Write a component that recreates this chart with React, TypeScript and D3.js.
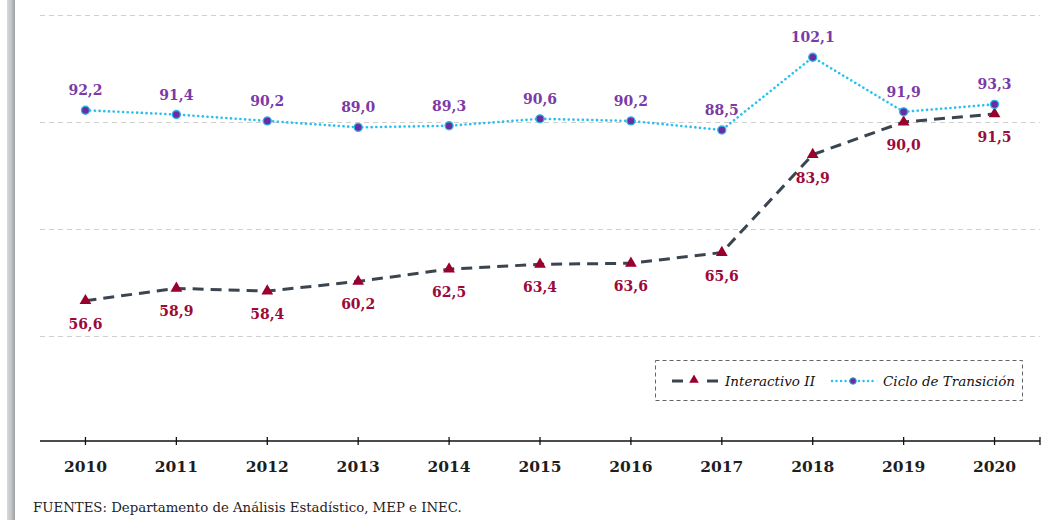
import React from "react";
import * as d3 from "d3";

const years = ["2010","2011","2012","2013","2014","2015","2016","2017","2018","2019","2020"];
const interactivo = [56.6, 58.9, 58.4, 60.2, 62.5, 63.4, 63.6, 65.6, 83.9, 90.0, 91.5];
const ciclo = [92.2, 91.4, 90.2, 89.0, 89.3, 90.6, 90.2, 88.5, 102.1, 91.9, 93.3];
const gridValues = [110, 90, 70, 50];
const seriesNames = ["Interactivo II", "Ciclo de Transición"];
const source = "FUENTES: Departamento de Análisis Estadístico, MEP e INEC.";

const W = 1058, H = 520;
const serif = "'DejaVu Serif', 'Liberation Serif', serif";
const fmt = (v: number) => v.toFixed(1).replace(".", ",");

export default function App() {
  const x = d3.scaleBand<string>().domain(years).range([40, 1040]);
  const cx = (d: string) => (x(d) as number) + x.bandwidth() / 2;
  const y = d3.scaleLinear().domain([30, 110]).range([443, 15]);
  const line = d3.line<number>().x((_, i) => cx(years[i])).y((v) => y(v));
  const tri = d3.symbol().type(d3.symbolTriangle).size(60)();

  return (
    <svg width={W} height={H} style={{ position: "absolute", left: 0, top: 0, background: "#fff" }}>
      <defs>
        <linearGradient id="bar" x1="0" x2="1" y1="0" y2="0">
          <stop offset="0" stopColor="#d6d8da" />
          <stop offset="0.5" stopColor="#c4c6c8" />
          <stop offset="1" stopColor="#9ea1a4" />
        </linearGradient>
      </defs>
      <rect x={7} y={0} width={8} height={H} fill="url(#bar)" />
      {gridValues.map((g) => (
        <line key={g} x1={40} x2={1040} y1={Math.round(y(g)) + 0.5} y2={Math.round(y(g)) + 0.5} stroke="#cfcfcf" strokeWidth={1} strokeDasharray="5,4" />
      ))}
      <line x1={40} x2={1040} y1={441} y2={441} stroke="#111" strokeWidth={1.5} />
      {years.map((d) => (
        <line key={d} x1={cx(d)} x2={cx(d)} y1={437} y2={445} stroke="#111" strokeWidth={1.3} />
      ))}
      <line x1={1040} x2={1040} y1={437} y2={445} stroke="#111" strokeWidth={1.3} />
      {years.map((d) => (
        <text key={d} x={cx(d)} y={472} textAnchor="middle" fontFamily={serif} fontWeight="bold" fontSize={15.5} fill="#1e1e1e">{d}</text>
      ))}
      <path d={line(interactivo) || ""} fill="none" stroke="#3b4550" strokeWidth={3} strokeDasharray="11,7" />
      <path d={line(ciclo) || ""} fill="none" stroke="#29c0f0" strokeWidth={2.6} strokeDasharray="0.1,4.6" strokeLinecap="round" />
      {interactivo.map((v, i) => (
        <path key={i} d={tri || ""} transform={`translate(${cx(years[i])},${y(v)})`} fill="#99002e" />
      ))}
      {ciclo.map((v, i) => (
        <circle key={i} cx={cx(years[i])} cy={y(v)} r={4} fill="#6a2c9e" stroke="#2ab4ee" strokeWidth={1.3} />
      ))}
      {interactivo.map((v, i) => (
        <text key={i} x={cx(years[i])} y={y(v) + 28} textAnchor="middle" fontFamily={serif} fontWeight="bold" fontSize={14} fill="#9c0a3a">{fmt(v)}</text>
      ))}
      {ciclo.map((v, i) => (
        <text key={i} x={cx(years[i])} y={y(v) - 15} textAnchor="middle" fontFamily={serif} fontWeight="bold" fontSize={14} fill="#7b3aa8">{fmt(v)}</text>
      ))}
      <rect x={655.5} y={360.5} width={367} height={40} fill="#fff" stroke="#666" strokeWidth={1} strokeDasharray="4,3" />
      <line x1={672} x2={718} y1={381} y2={381} stroke="#3b4550" strokeWidth={3} strokeDasharray="11,24" />
      <path d={d3.symbol().type(d3.symbolTriangle).size(40)() || ""} transform="translate(694,380)" fill="#99002e" />
      <text x={725} y={386} fontFamily={serif} fontStyle="italic" fontSize={13.5} fill="#111">{seriesNames[0]}</text>
      <line x1={832} x2={876} y1={381} y2={381} stroke="#29c0f0" strokeWidth={2.4} strokeDasharray="0.1,4.4" strokeLinecap="round" />
      <circle cx={853} cy={381} r={3.3} fill="#6a2c9e" stroke="#2ab4ee" strokeWidth={1} />
      <text x={883} y={386} fontFamily={serif} fontStyle="italic" fontSize={13.5} fill="#111">{seriesNames[1]}</text>
      <text x={33} y={512} fontFamily={serif} fontSize={13.3} fill="#1e1e1e">{source}</text>
    </svg>
  );
}
